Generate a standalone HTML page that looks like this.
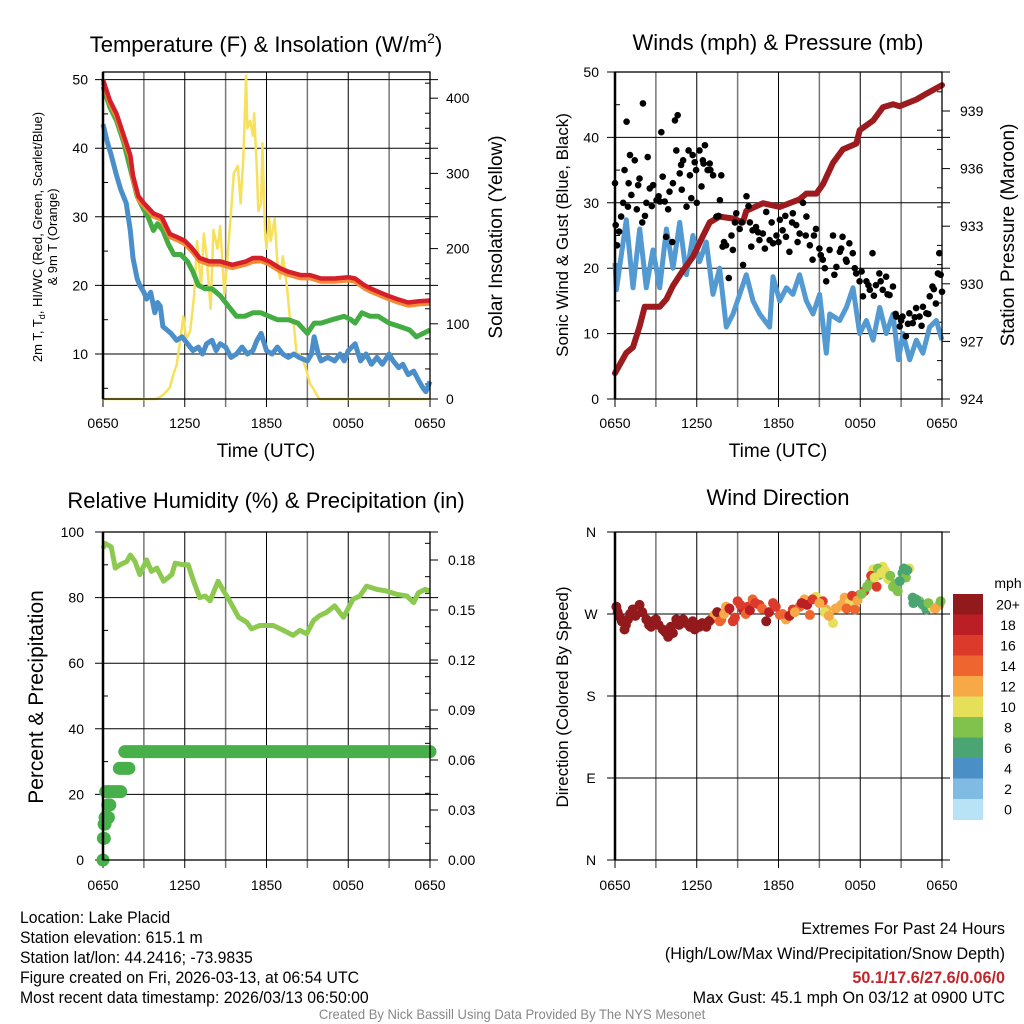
<!DOCTYPE html>
<html><head><meta charset="utf-8">
<style>
html,body{margin:0;padding:0;background:#fff;}
svg{display:block;font-family:"Liberation Sans",sans-serif;}
.t{font-size:14px;fill:#000;}
.ti{font-size:22px;fill:#000;}
.ax{font-size:19px;fill:#000;}
.ft{font-size:17px;fill:#000;}
</style></head>
<body>
<svg id="chart" width="1024" height="1024" viewBox="0 0 1024 1024" xmlns="http://www.w3.org/2000/svg">
<rect x="0" y="0" width="1024" height="1024" fill="#fff"/>
<text class="ti" x="266" y="52" text-anchor="middle">Temperature (F) &amp; Insolation (W/m<tspan dy="-9" font-size="14">2</tspan><tspan dy="9">)</tspan></text>
<text class="ti" x="778" y="50" text-anchor="middle">Winds (mph) &amp; Pressure (mb)</text>
<text class="ti" x="266" y="508" text-anchor="middle">Relative Humidity (%) &amp; Precipitation (in)</text>
<text class="ti" x="778" y="505" text-anchor="middle">Wind Direction</text>
<text class="ax" x="266" y="457" text-anchor="middle">Time (UTC)</text>
<text class="ax" x="778" y="457" text-anchor="middle">Time (UTC)</text>
<text font-size="13" x="0" y="0" text-anchor="middle" transform="translate(42,237) rotate(-90)">2m T, T<tspan font-size="9" dy="3">d</tspan><tspan dy="-3">, HI/WC (Red, Green, Scarlet/Blue)</tspan></text>
<text font-size="13" x="0" y="0" text-anchor="middle" transform="translate(57,237) rotate(-90)">&amp; 9m T (Orange)</text>
<text class="ax" x="0" y="0" text-anchor="middle" transform="translate(502,237) rotate(-90)">Solar Insolation (Yellow)</text>
<text font-size="17" x="0" y="0" text-anchor="middle" transform="translate(568,235) rotate(-90)">Sonic Wind &amp; Gust (Blue, Black)</text>
<text class="ax" x="0" y="0" text-anchor="middle" transform="translate(1014,235) rotate(-90)">Station Pressure (Maroon)</text>
<text font-size="21" x="0" y="0" text-anchor="middle" transform="translate(43,697) rotate(-90)">Percent &amp; Precipitation</text>
<text font-size="17" x="0" y="0" text-anchor="middle" transform="translate(568,697) rotate(-90)">Direction (Colored By Speed)</text>
<g transform="translate(20,0) scale(0.93,1)">
<text class="ft" x="0" y="923">Location: Lake Placid</text>
<text class="ft" x="0" y="943">Station elevation: 615.1 m</text>
<text class="ft" x="0" y="963">Station lat/lon: 44.2416; -73.9835</text>
<text class="ft" x="0" y="983">Figure created on Fri, 2026-03-13, at 06:54 UTC</text>
<text class="ft" x="0" y="1003">Most recent data timestamp: 2026/03/13 06:50:00</text>
</g>
<g transform="translate(1005,0) scale(0.95,1)">
<text class="ft" x="0" y="934" text-anchor="end">Extremes For Past 24 Hours</text>
<text class="ft" x="0" y="959" text-anchor="end">(High/Low/Max Wind/Precipitation/Snow Depth)</text>
<text class="ft" x="0" y="983" text-anchor="end" style="fill:#c0262b;font-weight:bold">50.1/17.6/27.6/0.06/0</text>
<text class="ft" x="0" y="1003" text-anchor="end">Max Gust: 45.1 mph On 03/12 at 0900 UTC</text>
</g>
<text x="0" y="0" font-size="14" fill="#888" text-anchor="middle" transform="translate(512,1019) scale(0.93,1)">Created By Nick Bassill Using Data Provided By The NYS Mesonet</text>
</svg>
<script>
// ---------- data ----------
const timeTickLabels = ["0650","1250","1850","0050","0650"];
const redH = [0,0.5,1,1.5,2,2.2,2.6,3,3.7,4.3,4.9,5.5,6,6.5,7.1,7.8,8.6,9.5,10.5,11,11.6,12.2,13,13.6,14.5,15.2,16,17,18,18.5,19.2,19.7,20.3,20.9,21.6,22.4,23.2,24];
const redT = [50,47,45,42,39,36,33,32,30.5,30,27.5,27,26.5,25.5,24,23.5,23.5,23,23.5,24,24,23.5,22.5,22,21.5,21.5,21,21,21.2,21,20,19.5,19,18.5,18,17.5,17.7,17.8];
const orangeT = [49.6,46.6,44.6,41.6,38.6,35.6,32.6,31.6,30.1,29.6,27.1,26.6,26.1,25.1,23.6,23.1,23.1,22.6,23.1,23.5,23.6,23.1,22.1,21.6,21.1,21.1,20.6,20.6,20.8,20.6,19.6,19.1,18.6,18.1,17.6,17.1,17.3,17.4];
const greenH = [0,0.5,1,1.5,2,2.5,3,3.3,3.7,4,4.4,4.8,5.2,5.7,6.2,6.6,7,7.5,8,8.6,9.2,9.8,10.4,11,11.6,12.2,12.8,13.6,14.3,15,15.5,16,16.8,17.7,18.2,18.5,19,19.6,20.2,21,21.8,22.5,23,23.5,24];
const greenT = [49,46,44,41,37,33,31,30,28,29,28,26,24.5,24.5,23.5,22,20,19.5,19.5,18.5,17,15.5,15.5,16,16,15.5,15,15,14.5,13,14.5,14.5,15,15.5,15,14.5,16,15.5,15.5,14.5,14,13.5,12.5,13,13.5];
const blueH = [0,0.3,0.6,1,1.3,1.7,2,2.2,2.5,2.7,3,3.2,3.5,3.8,4,4.2,4.4,4.7,5,5.4,5.8,6.2,6.6,7,7.3,7.6,8,8.3,8.6,9,9.4,9.8,10.2,10.6,11,11.3,11.6,12,12.4,12.8,13.2,13.6,14,14.4,15,15.3,15.5,15.8,16,16.5,17,17.4,17.7,18,18.5,18.9,19.3,19.7,20.1,20.5,21,21.3,21.7,22,22.4,22.8,23.2,23.5,23.7,24];
const blueT = [43.5,41,39,36,34,32,28,24,21,20,19,18,19,16,17.5,17,14,13.5,13,12,12.5,11.5,10.5,11,10,11.5,12,10.5,11.5,11,9.5,10,11,10,10.5,12,13,10.5,10,11,10,9.5,10,9.5,9,10,12.5,10,9,9.5,9,10,9,10.5,11.5,9,10,8.5,9.5,8.5,10,9,8,8.5,7,7.5,6,5,4.5,6];
const solarH = [0,3.9,4.4,4.9,5.2,5.4,5.6,5.9,6.1,6.4,6.7,6.9,7.2,7.4,7.6,7.9,8.1,8.4,8.6,8.9,9.1,9.4,9.6,9.9,10.1,10.3,10.5,10.6,10.8,11,11.1,11.3,11.4,11.6,11.7,11.9,12,12.2,12.3,12.6,12.8,13,13.2,13.5,13.7,14,14.2,14.4,14.6,14.9,15.2,15.4,15.7,15.9,24];
const solarW = [0,0,5,15,35,45,70,110,80,90,140,210,150,220,190,120,225,200,230,140,180,250,300,310,260,320,430,360,370,350,380,300,250,260,340,220,200,240,210,240,180,160,190,150,110,100,60,60,55,40,20,15,5,0,0];
const tempTicks = [10,20,30,40,50];
const solarTicks = [0,100,200,300,400];

const windH = [0,0.1,0.83,1.32,1.81,2.3,2.79,3.28,3.77,4.26,4.75,5.24,5.72,6.21,6.7,7.19,7.68,8.17,8.66,9.15,9.64,10.13,10.62,11.35,11.6,12.09,12.58,13.06,13.55,14.04,14.53,15.02,15.51,15.76,16.49,16.98,17.47,17.96,18.45,18.94,19.43,19.91,20.4,20.8,21.14,21.63,22.12,22.6,23.09,23.58,24];
const windV = [20.8,16.7,27.4,17,26,17,22.8,17,26,20,27,19,25,21,24,16,20,11,13,16,19,15,13,11,18.7,15,17,16,19,15,13,16,7,13,12,14,17,10,12,9,14,10,13,6,10,6,9,7,11,12,9];
const gustH = [0,0.05,0.15,0.3,0.45,0.7,0.85,0.95,1.1,1.2,1.45,1.7,1.8,2.05,2.2,2.3,2.55,2.8,3.05,3.3,3.4,3.5,3.65,3.75,4.0,4.25,4.4,4.5,4.6,4.75,4.85,5.0,5.25,5.5,5.6,5.7,5.85,5.95,6.2,6.35,6.45,6.6,6.8,6.95,7.2,7.45,7.7,7.8,7.9,8.15,8.35,8.55,8.65,8.9,9.15,9.4,9.65,9.9,10.0,10.1,10.35,10.6,10.85,11.1,11.35,11.6,11.85,12.1,12.3,12.55,12.8,13.05,13.3,13.55,13.8,14.05,14.3,14.5,14.75,15.0,15.25,15.5,15.75,16.0,16.25,16.5,16.7,16.95,17.2,17.45,17.7,17.95,18.2,18.45,18.7,18.9,19.15,19.4,19.65,19.9,20.15,20.4,20.65,20.9,21.1,21.35,21.6,21.85,22.1,22.35,22.6,22.85,23.1,23.3,23.55,23.7,23.8,24,
  0.6,1.0,1.6,2.0,2.4,2.7,3.2,3.9,4.2,4.9,5.4,6.0,6.5,7.0,7.6,8.0,8.8,9.3,9.8,10.5,11.0,11.5,12.0,12.5,13.0,13.4,14.0,14.6,15.1,15.4,16.1,16.6,17.0,17.6,18.1,18.6,19.0,19.5,20.0,20.6,21.0,21.5,22.0,22.5,23.0,23.4,23.9];
const gustV = [33,26.6,23.5,25.6,27.9,35,42.4,29.4,37.3,31.2,36.5,32.7,33.7,45.2,28,30,32.2,32.7,30.4,30.2,40.8,34,30.2,24.8,31.7,33,42.6,38,43.4,34.5,35.8,36.5,29.4,34.2,30.7,37.3,36.2,35,38,32.5,36.5,38.8,35,36,34.2,27.9,30.4,34.2,23.3,23.5,18.5,25,22.8,28.4,26,20.5,31,27,23.3,25.8,26.3,24.3,25.3,28.6,24.3,23.8,25,27.4,25.8,24.8,22.5,28.4,26.6,25.3,30,27.9,23.5,21.3,26,23,21.3,18,22.8,25,20.2,22.5,24.8,21.3,23.8,22.3,19.2,18,15.7,18,16.7,22.3,17.4,19.2,16.7,18.7,15.9,17.2,12.6,11.1,12.6,9.6,13.1,11.6,13.9,12.6,14.1,13.1,15.7,17.2,14.6,19.2,22.3,16.4,
  30,33,29,27,37,29.5,31,29,24,32,38,30,36,35,28,24,27,27,29.5,25.5,23,27,24,28,27,24,25,25,22,20,19,23,21,20,19.5,17.4,15.8,18,16,13,12,11.5,12.5,11.2,13,16.8,19];
const presH = [0,0.83,1.32,1.81,2.18,3.28,3.77,4.26,4.99,5.72,6.46,6.95,7.68,8.66,9.39,9.64,10.86,12.09,13.55,14.04,14.78,15.27,16,16.73,17.71,17.96,18.94,19.67,20.4,20.89,22.12,22.85,24];
const presMb = [925.35,926.4,926.7,927.8,928.8,928.8,929.2,929.9,930.7,931.4,932.5,933.2,933.5,933.4,933.2,933.8,934.2,934.0,934.4,934.7,934.7,935.2,936.3,937.0,937.3,938.0,938.5,939.2,939.35,939.25,939.6,939.9,940.35];
const windTicks = [0,10,20,30,40,50];
const presTicks = [924,927,930,933,936,939];

const rhH = [0,0.15,0.6,0.9,1.25,1.75,2,2.35,2.7,3.2,3.55,3.95,4.45,5.05,5.3,5.9,6.25,6.65,7.1,7.5,7.85,8.45,8.85,9.3,9.95,10.55,10.9,11.5,12.5,13.25,13.95,14.45,14.95,15.45,15.9,16.4,17,17.65,18.35,18.85,19.35,20.1,20.8,21.55,22.3,22.8,23.15,23.65,24];
const rhV = [95,96.5,95.5,89,90,91,93,91,87,91.5,88,89,85,87,90.5,90,90,85,80,80.5,79,85,82,79,74,72.5,70.5,71.5,71.5,70,68.5,70,69,73,74.5,75.5,77.5,74,79.5,80.5,83.5,82.5,82,81,80.5,78.5,81.5,82.5,82];
const precipStartH = [0,0.03,0.08,0.15,0.35,0.2,1.2,1.6];
const precipEndH = [0,0.1,0.15,0.4,0.5,1.3,1.9,24];
const precipIn = [0,0.013,0.0215,0.0255,0.033,0.041,0.055,0.065];
const rhTicks = [0,20,40,60,80,100];
const precipTicks = ["0.00","0.03","0.06","0.09","0.12","0.15","0.18"];

const dirH = [0.1,0.35,0.7,0.95,1.3,1.8,2.3,2.65,3.0,3.5,3.9,4.25,4.5,5.0,5.5,5.85,6.2,6.7,7.05,7.3,7.8,8.15,8.65,9.0,9.4,9.75,10.1,10.6,11.1,11.6,12.1,12.55,13.05,13.55,13.9,14.3,14.75,15.25,15.5,16.0,16.5,16.85,17.2,17.6,17.95,18.3,18.7,18.95,19.2,19.4,19.65,20.05,20.4,20.75,21.1,21.35,21.6,21.85,22.35,22.85,23.3,23.8,
  0.2,0.5,0.8,1.1,1.5,2.0,2.5,2.8,3.2,3.7,4.1,4.7,5.2,5.7,6.0,6.4,6.9,7.5,7.7,8.0,8.4,8.8,9.2,9.6,9.9,10.3,10.8,11.3,11.8,12.3,12.8,13.2,13.7,14.1,14.5,15.0,15.4,15.7,16.2,16.6,17.0,17.4,17.8,18.1,18.5,18.8,19.05,19.3,19.55,19.8,20.2,20.55,20.9,21.2,21.45,21.9,22.1,22.6,23.0,23.5,23.9];
const dirDeg = [278,267,253,264,275,280,264,256,264,253,245,249,264,264,256,253,256,256,264,269,264,278,262,284,275,278,286,280,262,282,269,264,275,278,286,269,289,284,275,260,278,288,282,275,291,295,304,319,300,313,322,308,300,295,315,310,320,288,284,275,277,280,
  272,262,258,270,268,272,258,262,258,250,256,258,260,262,258,260,262,272,262,270,276,266,280,270,274,282,276,272,278,270,268,272,282,280,286,282,272,268,276,280,276,290,285,292,300,312,310,320,315,318,312,303,306,320,318,282,286,280,282,276,284];
const dirSpeed = [22,22,22,22,22,22,22,22,22,22,22,22,22,22,22,22,22,22,17,13,15,12,17,16,19,17,15,16,21,17,15,12,17,15,12,14,10,16,12,10,11,13,10,15,15,16,9,10,16,8,10,11,8,8,7,9,10,7,8,6,11,12,
  22,22,22,22,22,22,22,22,22,22,22,22,22,22,22,22,22,22,14,12,18,16,17,14,19,17,15,18,16,14,18,13,18,19,16,12,10,12,13,12,15,16,12,9,8,16,10,8,10,10,9,8,7,6,7,6,7,7,8,12,8];
const dirTickLabels = ["N","E","S","W","N"];
const speedLabels = ["0","2","4","6","8","10","12","14","16","18","20+"];
const speedColors = ["#b8e2f6","#80bbe3","#4a8fc6","#4aa572","#80c24b","#e6df5a","#f6a946","#ee6530","#dc3a2b","#bb1e25","#921a1d"];

// ---------- helpers ----------
const NS = "http://www.w3.org/2000/svg";
const svg = document.getElementById("chart");
function mk(tag, attrs, parent) {
  const e = document.createElementNS(NS, tag);
  for (const k in attrs) e.setAttribute(k, attrs[k]);
  (parent || svg).appendChild(e);
  return e;
}
function pathD(hs, vs, xf, yf) {
  let d = "";
  for (let i = 0; i < hs.length; i++) d += (i ? "L" : "M") + xf(hs[i]).toFixed(1) + "," + yf(vs[i]).toFixed(1);
  return d;
}
function panelFrame(name, x0, x1, yTop, yBot, hGridYs) {
  const g = mk("g", {});
  
  
  for (let k = 0; k <= 8; k++) {
    const x = x0 + (x1 - x0) * k / 8;
    const l = mk("line", {x1: x, x2: x, y1: yTop, y2: yBot + 8, stroke: k % 2 ? "#777" : "#000", "stroke-width": k % 2 ? 1.5 : 1}, g);
    
    
  }
  hGridYs.forEach(y => {
    const l = mk("line", {x1: x0 - 8, x2: x1 + 8, y1: y, y2: y, stroke: "#000", "stroke-width": 1}, g);
    
    
  });
  return g;
}
function panelBox(name, x0, x1, yTop, yBot) {
  const r = mk("rect", {x: x0, y: yTop, width: x1 - x0, height: yBot - yTop, fill: "none", stroke: "#000", "stroke-width": 1.3});
  
  
  const l = mk("line", {x1: x0, x2: x0, y1: yTop, y2: yBot, stroke: "#000", "stroke-width": 2.5});
  
  
}
function timeLabels(name, x0, x1, y) {
  timeTickLabels.forEach((s, i) => {
    const t = mk("text", {x: x0 + (x1 - x0) * i / 4, y: y, "text-anchor": "middle", class: "t"});
    t.textContent = s;
    
    
  });
}
function label(txt, x, y, anchor, name) {
  const t = mk("text", {x: x, y: y, "text-anchor": anchor, class: "t"});
  t.textContent = txt;
  
  
}
function minorTicks(ys, x, dir) {
  ys.forEach(y => {
    const l = mk("line", {x1: x, x2: x + dir * 5, y1: y, y2: y, stroke: "#000", "stroke-width": 1});
    
    
  });
}

// ---------- Panel 1: temperature ----------
(function () {
  const x0 = 103, x1 = 430, yTop = 72, yBot = 399;
  const xs = h => x0 + h / 24 * (x1 - x0);
  const yT = v => yBot - (v - 3.44) * 6.86;
  const yS = v => yBot - v * 0.752;
  panelFrame("temperature", x0, x1, yTop, yBot, tempTicks.map(yT));
  tempTicks.forEach(v => label(String(v), 88, yT(v) + 5, "end", "temperature-y-tick-label"));
  solarTicks.forEach(v => {
    const l = mk("line", {x1: x1, x2: x1 + 8, y1: yS(v), y2: yS(v), stroke: "#000"});
    
    
    label(String(v), 446, yS(v) + 5, "start", "solar-y-tick-label");
  });
  minorTicks([5,15,25,35,45].map(yT), x0, 1);
  minorTicks([20,40,60,80,120,140,160,180,220,240,260,280,320,340,360,380,420].map(yS), x1, -1);
  let p = mk("path", {d: pathD(solarH, solarW, xs, yS), fill: "none", stroke: "#f7e15c", "stroke-width": 2.5, "stroke-linejoin": "round"});
  
  
  p = mk("path", {d: pathD(blueH, blueT, xs, yT), fill: "none", stroke: "#4a8fc9", "stroke-width": 5, "stroke-linejoin": "round"});
  
  
  p = mk("path", {d: pathD(greenH, greenT, xs, yT), fill: "none", stroke: "#43ad44", "stroke-width": 5, "stroke-linejoin": "round"});
  
  
  p = mk("path", {d: pathD(redH, orangeT, xs, yT), fill: "none", stroke: "#f58a35", "stroke-width": 5, "stroke-linejoin": "round"});
  
  
  p = mk("path", {d: pathD(redH, redT, xs, yT), fill: "none", stroke: "#d4202a", "stroke-width": 4.5, "stroke-linejoin": "round"});
  
  
  panelBox("temperature", x0, x1, yTop, yBot);
  timeLabels("temperature", x0, x1, 428);
})();

// ---------- Panel 2: winds & pressure ----------
(function () {
  const x0 = 615, x1 = 942, yTop = 72, yBot = 399;
  const xs = h => x0 + h / 24 * (x1 - x0);
  const yW = v => yBot - v * 6.54;
  const yP = v => yBot - (v - 924) * 19.2;
  panelFrame("winds", x0, x1, yTop, yBot, windTicks.map(yW));
  windTicks.forEach(v => label(String(v), 599, yW(v) + 5, "end", "wind-y-tick-label"));
  presTicks.forEach(v => {
    const l = mk("line", {x1: x1, x2: x1 + 8, y1: yP(v), y2: yP(v), stroke: "#000"});
    
    
    label(String(v), 960, yP(v) + 5, "start", "pressure-y-tick-label");
  });
  minorTicks([5,15,25,35,45].map(yW), x0, 1);
  minorTicks([925,926,928,929,931,932,934,935,937,938,940].map(yP), x1, -1);
  let p = mk("path", {d: pathD(windH, windV, xs, yW), fill: "none", stroke: "#5399d2", "stroke-width": 5, "stroke-linejoin": "round"});
  
  
  p = mk("path", {d: pathD(presH, presMb, xs, yP), fill: "none", stroke: "#9b1b1f", "stroke-width": 6, "stroke-linejoin": "round", "stroke-linecap": "round"});
  
  
  gustH.forEach((h, i) => {
    const c = mk("circle", {cx: xs(h), cy: yW(gustV[i]), r: 3.3, fill: "#000"});
    
    
  });
  panelBox("winds", x0, x1, yTop, yBot);
  timeLabels("winds", x0, x1, 428);
})();

// ---------- Panel 3: RH & precip ----------
(function () {
  const x0 = 103, x1 = 430, yTop = 532, yBot = 860;
  const xs = h => x0 + h / 24 * (x1 - x0);
  const yR = v => yBot - v * 3.28;
  const yPr = v => yBot - v / 0.18 * 300;
  panelFrame("humidity", x0, x1, yTop, yBot, rhTicks.map(yR));
  rhTicks.forEach(v => label(String(v), 84, yR(v) + 5, "end", "humidity-y-tick-label"));
  precipTicks.forEach(s => {
    const v = parseFloat(s);
    const l = mk("line", {x1: x1, x2: x1 + 8, y1: yPr(v), y2: yPr(v), stroke: "#000"});
    
    
    label(s, 448, yPr(v) + 5, "start", "precip-y-tick-label");
  });
  minorTicks([10,30,50,70,90].map(yR), x0, 1);
  minorTicks([0.01,0.02,0.04,0.05,0.07,0.08,0.10,0.11,0.13,0.14,0.16,0.17,0.19].map(yPr), x1, -1);
  let p = mk("path", {d: pathD(rhH, rhV, xs, yR), fill: "none", stroke: "#8cc94f", "stroke-width": 5, "stroke-linejoin": "round"});
  
  
  precipIn.forEach((v, i) => {
    const l = mk("line", {x1: xs(precipStartH[i]), x2: xs(precipEndH[i]), y1: yPr(v), y2: yPr(v), stroke: "#47b04a", "stroke-width": 13, "stroke-linecap": "round"});
    
    
  });
  panelBox("humidity", x0, x1, yTop, yBot);
  timeLabels("humidity", x0, x1, 890);
})();

// ---------- Panel 4: wind direction ----------
(function () {
  const x0 = 615, x1 = 942, yTop = 532, yBot = 860;
  const xs = h => x0 + h / 24 * (x1 - x0);
  const yD = d => yBot - d / 360 * 328;
  panelFrame("direction", x0, x1, yTop, yBot, [0,90,180,270,360].map(yD));
  dirTickLabels.forEach((s, i) => label(s, 591, yD(i * 90) + 5, "middle", "direction-y-tick-label"));
  dirH.forEach((h, i) => {
    const idx = Math.min(10, Math.floor(dirSpeed[i] / 2));
    const c = mk("circle", {cx: xs(h), cy: yD(dirDeg[i]), r: 5, fill: speedColors[idx]});
    
    
  });
  panelBox("direction", x0, x1, yTop, yBot);
  timeLabels("direction", x0, x1, 890);
  const cb = mk("g", {});
  
  
  const top = 594, h = 20.5;
  speedLabels.forEach((s, i) => {
    const j = 10 - i;
    const r = mk("rect", {x: 953, y: top + (10 - j) * h, width: 30, height: h + 0.5, fill: speedColors[j]}, cb);
    
    
  });
  speedLabels.forEach((s, j) => {
    label(s, 1008, top + (10 - j) * h + h / 2 + 5, "middle", "colorbar-label");
  });
  label("mph", 1008, 588, "middle", "colorbar-title");
})();
</script>
</body></html>
